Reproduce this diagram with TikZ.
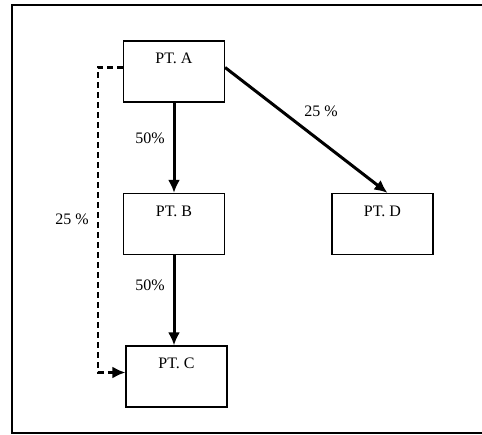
\documentclass[tikz,border=0pt]{standalone}
\usepackage{fontspec}
\setmainfont{Liberation Serif}
\usetikzlibrary{arrows.meta}

\begin{document}
\begin{tikzpicture}[x=1pt,y=-1pt,
  ptbox/.style={draw,line width=1.2pt,minimum width=101pt,inner xsep=2pt,inner ysep=6pt,
    text height=17pt,text depth=32pt,font=\fontsize{16}{18}\selectfont},
  pct/.style={font=\fontsize{16}{18}\selectfont},
  flow/.style={line width=3pt,-{Latex[length=13pt,width=12pt]}},
  bypass/.style={line width=2.5pt,dash pattern=on 6pt off 4pt,-{Latex[length=13pt,width=12pt]}}]

\useasboundingbox (0,0) rectangle (482,435);
\draw[line width=1.5pt] (482,5) -- (12,5) -- (12,433) -- (482,433);

\node[ptbox] (ptA) at (174.0, 71.5) {PT. A};
\node[ptbox] (ptB) at (174.0, 224.0) {PT. B};
\node[ptbox] (ptC) at (176.5, 376.5) {PT. C};
\node[ptbox] (ptD) at (382.5, 224.0) {PT. D};

\node[pct] (pAB) at (150, 138) {50\%};
\node[pct] (pBC) at (150, 285) {50\%};
\node[pct] (pAD) at (321, 111) {25 \%};
\node[pct] (pAC) at (72, 219) {25 \%};

\draw[flow] (ptA.south) -- (ptB.north);
\draw[flow] (ptB.south) -- (ptB.south |- ptC.north);
\draw[flow] ([yshift=4pt]ptA.east) -- ([xshift=5pt]ptD.north);
\draw[bypass] ([yshift=4pt]ptA.west) -- ++(-25pt,0pt) |- ([yshift=4pt]ptC.west);

\end{tikzpicture}
\end{document}
